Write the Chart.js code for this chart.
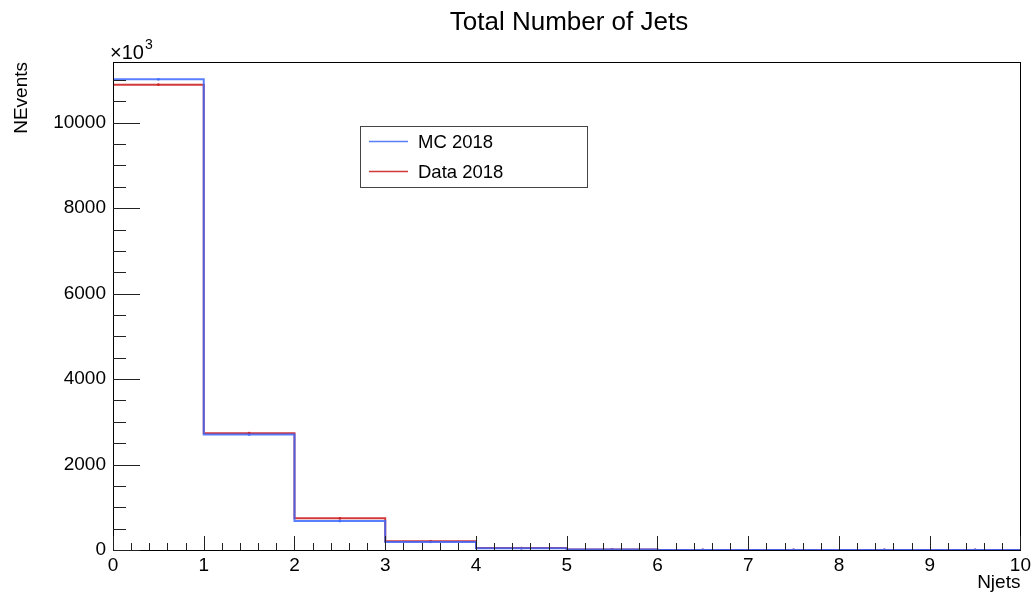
<!DOCTYPE html>
<html>
<head>
<meta charset="utf-8">
<script src="https://cdn.jsdelivr.net/npm/chart.js@4.4.1/dist/chart.umd.min.js"></script>
<style>
  html, body { margin: 0; padding: 0; background: #fff; }
  #wrap { width: 1035px; height: 596px; }
</style>
</head>
<body>
<div id="wrap"><canvas id="c" width="1035" height="596"></canvas></div>
<script>
// Njets histogram: bin low edges and contents (in units of 10^3 events)
const binEdges = [0, 1, 2, 3, 4, 5, 6, 7, 8, 9, 10];
const mcCounts = [11014, 2700, 679, 190, 40, 10, 2, 0.5, 0, 0];
const dataCounts = [10890, 2733, 742, 203, 45, 10, 2, 0.5, 0, 0];
const xTickLabels = [0, 1, 2, 3, 4, 5, 6, 7, 8, 9, 10];
const yTickLabels = [0, 2000, 4000, 6000, 8000, 10000];
const seriesNames = ['MC 2018', 'Data 2018'];

const FONT = "'Liberation Sans', Arial, Helvetica, sans-serif";
const BLUE = 'rgba(60,105,255,0.85)';
const RED = 'rgba(205,35,35,0.9)';

// outline of a step histogram: one point per low edge, plus the last upper edge
function stepPoints(counts) {
  const pts = counts.map((v, i) => ({ x: binEdges[i], y: v }));
  pts.push({ x: binEdges[binEdges.length - 1], y: counts[counts.length - 1] });
  return pts;
}
function centerPoints(counts) {
  return counts.map((v, i) => ({ x: (binEdges[i] + binEdges[i + 1]) / 2, y: v }));
}

// frame, inward ticks, title, axis titles and legend box
const rootStyle = {
  id: 'rootStyle',
  afterDraw(chart) {
    const { ctx, chartArea: a, scales } = chart;
    const xs = scales.x, ys = scales.y;
    ctx.save();
    ctx.strokeStyle = '#000';
    ctx.lineWidth = 1;
    ctx.strokeRect(Math.round(a.left) + 0.5, Math.round(a.top) + 0.5,
      Math.round(a.right - a.left), Math.round(a.bottom - a.top));

    ctx.strokeStyle = '#222';
    ctx.beginPath();
    // x ticks: majors at integers, minors every 0.2
    for (let k = 0; k <= 50; k++) {
      const v = k * 0.2;
      const px = Math.round(xs.getPixelForValue(v)) + 0.5;
      const len = (k % 5 === 0) ? 14 : 7;
      ctx.moveTo(px, a.bottom);
      ctx.lineTo(px, a.bottom - len);
    }
    // y ticks: majors every 2000, minors every 500
    for (let v = 0; v <= ys.max; v += 500) {
      const py = Math.round(ys.getPixelForValue(v)) + 0.5;
      const len = (v % 2000 === 0) ? 27 : 13;
      ctx.moveTo(a.left, py);
      ctx.lineTo(a.left + len, py);
    }
    ctx.stroke();

    ctx.fillStyle = '#000';
    // title
    ctx.font = '26px ' + FONT;
    ctx.textAlign = 'center';
    ctx.textBaseline = 'alphabetic';
    ctx.fillText('Total Number of Jets', 569, 30);

    // x axis title
    ctx.font = '19px ' + FONT;
    ctx.textAlign = 'right';
    ctx.fillText('Njets', a.right, 588);

    // y axis title
    ctx.save();
    ctx.translate(27, a.top);
    ctx.rotate(-Math.PI / 2);
    ctx.font = '19px ' + FONT;
    ctx.textAlign = 'right';
    ctx.fillText('NEvents', 0, 0);
    ctx.restore();

    // exponent
    ctx.textAlign = 'left';
    ctx.font = '20px ' + FONT;
    ctx.fillText('\u00d710', 110, 59);
    const w = ctx.measureText('\u00d710').width;
    ctx.font = '14px ' + FONT;
    ctx.fillText('3', 110 + w + 1, 49);

    // legend
    const lx = 360, ly = 126, lw = 227, lh = 61;
    ctx.fillStyle = '#fff';
    ctx.fillRect(lx, ly, lw, lh);
    ctx.strokeStyle = '#444';
    ctx.strokeRect(lx + 0.5, ly + 0.5, lw, lh);
    const cols = [BLUE, RED];
    const rowY = [141.5, 171.5];
    ctx.font = '18.5px ' + FONT;
    ctx.textBaseline = 'middle';
    seriesNames.forEach((name, i) => {
      ctx.strokeStyle = cols[i];
      ctx.lineWidth = 1.3;
      ctx.beginPath();
      ctx.moveTo(369, rowY[i]);
      ctx.lineTo(408, rowY[i]);
      ctx.stroke();
      ctx.fillStyle = '#000';
      ctx.fillText(name, 418, rowY[i] + 1);
    });
    ctx.restore();
  }
};

new Chart(document.getElementById('c'), {
  type: 'line',
  data: {
    datasets: [
      { label: seriesNames[0], data: stepPoints(mcCounts), stepped: 'before',
        borderColor: BLUE, borderWidth: 2, pointRadius: 0, fill: false },
      { label: seriesNames[1], data: stepPoints(dataCounts), stepped: 'before',
        borderColor: RED, borderWidth: 2, pointRadius: 0, fill: false },
      { label: 'mc-centers', data: centerPoints(mcCounts), showLine: false,
        pointRadius: 1.4, pointBackgroundColor: BLUE, pointBorderWidth: 0 },
      { label: 'data-centers', data: centerPoints(dataCounts), showLine: false,
        pointRadius: 1.4, pointBackgroundColor: RED, pointBorderWidth: 0 }
    ]
  },
  options: {
    responsive: false,
    animation: false,
    events: [],
    layout: { padding: { top: 62, right: 14, left: 0, bottom: 0 } },
    plugins: { legend: { display: false }, title: { display: false }, tooltip: { enabled: false } },
    scales: {
      x: {
        type: 'linear', min: 0, max: 10,
        grid: { display: false, drawTicks: false },
        border: { display: false },
        afterFit(s) { s.height = 46; },
        afterBuildTicks(s) { s.ticks = xTickLabels.map(v => ({ value: v })); },
        ticks: { padding: 4, color: '#000', font: { family: FONT, size: 19 }, maxRotation: 0, autoSkip: false,
                 callback: v => String(v) }
      },
      y: {
        type: 'linear', min: 0, max: 11420,
        grid: { display: false, drawTicks: false },
        border: { display: false },
        afterFit(s) { s.width = 113; },
        afterBuildTicks(s) { s.ticks = yTickLabels.map(v => ({ value: v })); },
        ticks: { padding: 7, color: '#000', font: { family: FONT, size: 19 }, autoSkip: false,
                 callback: v => String(v) }
      }
    }
  },
  plugins: [rootStyle]
});
</script>
</body>
</html>
